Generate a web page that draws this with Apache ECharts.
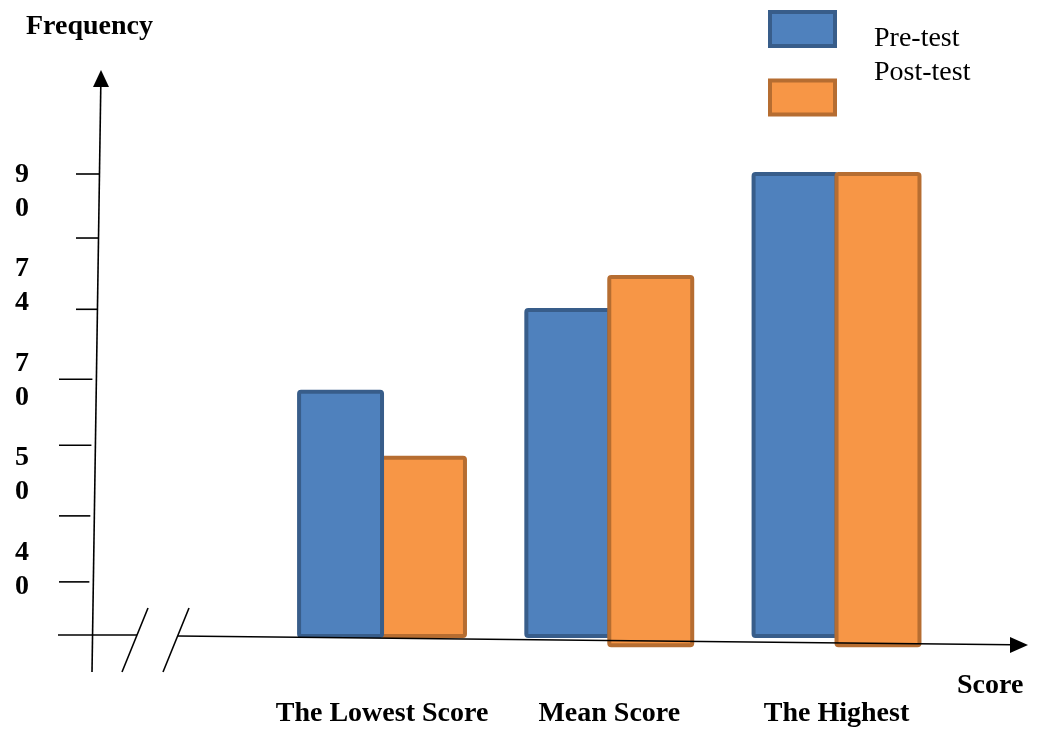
<!DOCTYPE html>
<html>
<head>
<meta charset="utf-8">
<script src="https://cdn.jsdelivr.net/npm/echarts@6/dist/echarts.min.js"></script>
<style>
  html, body { margin: 0; padding: 0; background: #ffffff; }
  #chart { width: 1043px; height: 729px; }
</style>
</head>
<body>
<div id="chart"></div>
<script>
// Score groups along the horizontal axis
const categories = ['The Lowest Score', 'Mean Score', 'The Highest'];

// Bar tops and bar bases, in vertical-axis steps (one step per tick)
const preTop = [3.70, 4.94, 7.00];
const postTop = [2.70, 5.44, 7.00];
const preBase = [0, 0, 0];
const postBase = [0, -0.14, -0.14];

// Tick marks on the frequency axis and the labels written beside them
const tickLevels = [7, 6.03, 4.95, 3.89, 2.89, 1.82, 0.82];
const yLabels = ['90', '74', '70', '50', '40'];
const yLabelLevels = [6.73, 5.31, 3.87, 2.45, 1.00];

const SERIF = "'Liberation Serif', 'Times New Roman', serif";
const PRE = { fill: '#4F81BD', stroke: '#385D8A' };
const POST = { fill: '#F79646', stroke: '#B66D31' };

const chart = echarts.init(document.getElementById('chart'), null, { renderer: 'canvas' });

function barSeries(name, tops, bases, side, colors, rival) {
  return {
    type: 'custom',
    name: name,
    clip: false,
    itemStyle: { color: colors.fill, borderColor: colors.stroke },
    data: tops.map((t, i) => [i, bases[i], t]),
    encode: { x: 0, y: [1, 2] },
    renderItem: function (params, api) {
      const ci = api.value(0);
      const base = api.value(1);
      const top = api.value(2);
      const pTop = api.coord([ci, top]);
      const pBase = api.coord([ci, base]);
      const band = api.size([1, 0])[0];
      const w = band * 0.365;
      const x = side < 0 ? pTop[0] - w : pTop[0];
      // the taller bar of a pair is drawn over its neighbour's shared edge
      const onTop = side < 0 ? top > rival[ci] : top >= rival[ci];
      return {
        type: 'rect',
        z2: onTop ? 2 : 1,
        shape: { x: x, y: pTop[1], width: w, height: pBase[1] - pTop[1], r: 2 },
        style: { fill: colors.fill, stroke: colors.stroke, lineWidth: 4 }
      };
    }
  };
}

function legendFor(name, colors, top, pad) {
  return {
    left: 768, top: top, padding: 0, orient: 'vertical', icon: 'rect',
    itemWidth: 65, itemHeight: 34, selectedMode: false,
    formatter: n => '{t|' + n + '}',
    textStyle: {
      fontSize: 28, fontFamily: SERIF, color: '#000000', lineHeight: 32,
      rich: { t: { fontSize: 28, fontFamily: SERIF, color: '#000000', lineHeight: 32, padding: pad } }
    },
    data: [{ name: name, itemStyle: { color: colors.fill, borderColor: colors.stroke, borderWidth: 4 } }]
  };
}

const boldText = { fontSize: 28, fontWeight: 'bold', fontFamily: SERIF, color: '#000000', lineHeight: 30 };

chart.setOption({
  animation: false,
  backgroundColor: '#ffffff',
  title: [
    { text: 'Frequency', left: 26, top: 12, padding: 0, textStyle: boldText },
    { text: 'Score', left: 957, top: 671, padding: 0, textStyle: boldText }
  ],
  legend: [
    legendFor('Pre-test', PRE, 5, [20, 0, 0, 34]),
    legendFor('Post-test', POST, 58.5, [0, 0, 50, 34])
  ],
  grid: { left: 268.4, top: 108, width: 681.75, height: 528, outerBoundsMode: 'none', containLabel: false },
  xAxis: {
    type: 'category',
    data: categories,
    axisLine: { show: false },
    axisTick: { show: false },
    splitLine: { show: false },
    axisLabel: Object.assign({ margin: 63, interval: 0 }, boldText)
  },
  yAxis: {
    type: 'value',
    min: 0, max: 8,
    offset: 171.4,
    axisLine: { show: false },
    axisTick: { show: false },
    splitLine: { show: false },
    axisLabel: Object.assign({}, boldText, {
      customValues: yLabelLevels,
      margin: 68,
      align: 'right',
      lineHeight: 34,
      formatter: function (v) {
        let k = 0;
        yLabelLevels.forEach((lv, i) => { if (Math.abs(lv - v) < Math.abs(yLabelLevels[k] - v)) k = i; });
        return yLabels[k].split('').join('\n');
      }
    })
  },
  series: [
    barSeries('Pre-test', preTop, preBase, -1, PRE, postTop),
    barSeries('Post-test', postTop, postBase, 1, POST, preTop)
  ]
});

// Hand-drawn axes: slanted frequency axis with arrow, broken score axis with arrow
const yPx = v => chart.convertToPixel({ yAxisIndex: 0 }, v);
const y0 = yPx(0);
const axisX = y => 92 + 9 * (672 - y) / 600;
const ink = { stroke: '#000000', lineWidth: 1.6 };
const g = [];

g.push({ type: 'line', shape: { x1: 92, y1: 672, x2: axisX(86), y2: 86 }, style: ink });
g.push({ type: 'polygon', shape: { points: [[101, 70], [93, 87], [109, 87]] }, style: { fill: '#000000' } });

g.push({ type: 'line', shape: { x1: 58, y1: y0 - 1, x2: 137, y2: y0 - 1 }, style: ink });
g.push({ type: 'line', shape: { x1: 122, y1: 672, x2: 148, y2: 608 }, style: ink });
g.push({ type: 'line', shape: { x1: 163, y1: 672, x2: 189, y2: 608 }, style: ink });
g.push({ type: 'line', shape: { x1: 178, y1: y0, x2: 1012, y2: y0 + 8.8 }, style: ink });
g.push({ type: 'polygon', shape: { points: [[1028, y0 + 9], [1010, y0 + 1], [1010, y0 + 17]] }, style: { fill: '#000000' } });

tickLevels.forEach(lv => {
  const y = yPx(lv);
  const low = y > 350;
  g.push({
    type: 'line',
    shape: { x1: low ? 59 : 76, y1: y, x2: axisX(y) - (low ? 4 : 0), y2: y },
    style: ink
  });
});

chart.setOption({ graphic: g.map(e => Object.assign({ silent: true, z: 10 }, e)) });
</script>
</body>
</html>
